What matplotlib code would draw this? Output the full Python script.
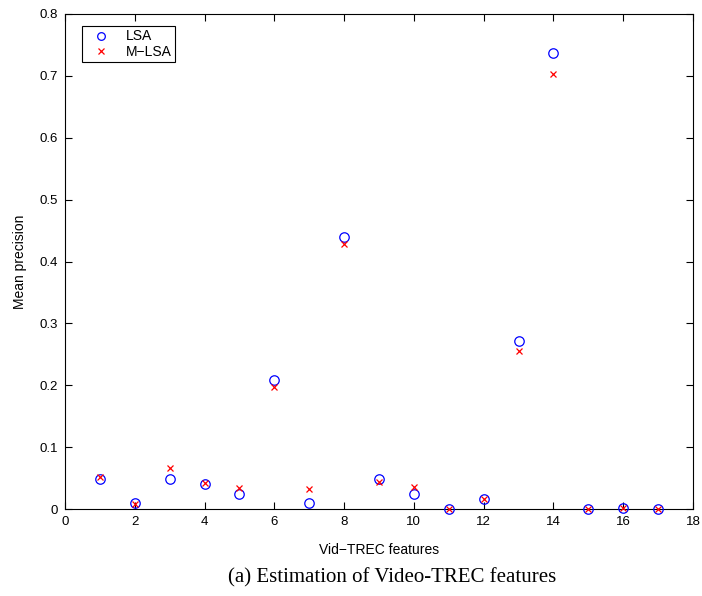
import numpy as np
import matplotlib
matplotlib.use("Agg")
import matplotlib.pyplot as plt

# feature index on x, mean precision on y
features = np.arange(1, 18)
lsa = [0.049, 0.009, 0.049, 0.040, 0.024, 0.208, 0.010, 0.440, 0.048,
       0.024, 0.000, 0.016, 0.271, 0.737, 0.000, 0.002, 0.000]
mlsa = [0.052, 0.008, 0.066, 0.042, 0.034, 0.197, 0.032, 0.428, 0.043,
        0.036, 0.000, 0.016, 0.255, 0.703, 0.000, 0.001, 0.000]

plt.rcParams['font.family'] = ['Liberation Sans', 'DejaVu Sans']

fig = plt.figure(figsize=(7.02, 5.96), dpi=100)
ax = fig.add_axes([65 / 702, 87 / 596, 628 / 702, 495 / 596])

ax.plot(features, lsa, 'o', mfc='none', mec='blue', ms=6.8, mew=0.9,
        label='LSA', clip_on=False, zorder=3)
ax.plot(features, mlsa, 'x', color='red', ms=4.8, mew=0.9,
        label='M\u2212LSA', clip_on=False, zorder=4)

ax.set_xlim(0, 18)
ax.set_ylim(0, 0.8)
ax.set_xticks(np.arange(0, 19, 2))
ax.set_yticks(np.arange(0, 0.81, 0.1))
ax.set_yticklabels(['0', '0.1', '0.2', '0.3', '0.4', '0.5', '0.6', '0.7', '0.8'])
ax.tick_params(direction='in', top=True, right=True, labelsize=9.5, length=5, width=0.8, pad=5)
for s in ax.spines.values():
    s.set_linewidth(0.8)

ax.set_xlabel('Vid\u2212TREC features', fontsize=10, labelpad=11)
ax.set_ylabel('Mean precision', fontsize=10, labelpad=9)

leg = ax.legend(loc='upper left', bbox_to_anchor=(17 / 628, 1 - 12 / 495),
                borderaxespad=0, fontsize=10,
                fancybox=False, edgecolor='black', framealpha=1,
                handletextpad=0.6, borderpad=0.25, labelspacing=0.1, handlelength=2.3)
leg.get_frame().set_linewidth(0.8)
leg.legend_handles[0].set_markersize(5.5)
leg.legend_handles[1].set_markersize(4.2)

fig.text(0.559, 1 - 578 / 596, '(a) Estimation of Video-TREC features', ha='center', va='center',
         fontsize=15, family=['Liberation Serif', 'DejaVu Serif'])

fig.savefig('out.png', dpi=100)
